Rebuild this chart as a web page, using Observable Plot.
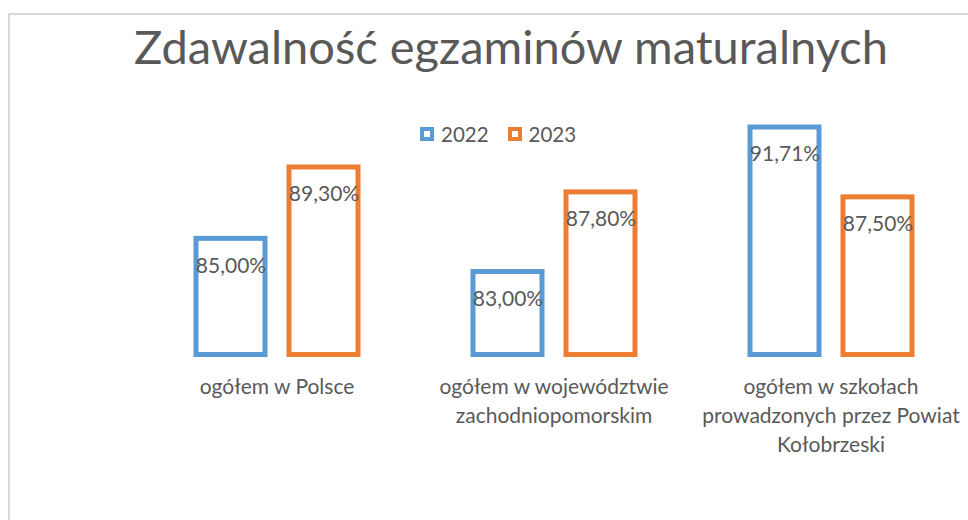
<!DOCTYPE html>
<html>
<head>
<meta charset="utf-8">
<script src="https://cdn.jsdelivr.net/npm/d3@7"></script>
<script src="https://cdn.jsdelivr.net/npm/@observablehq/plot@0.6"></script>
<style>
  body { margin: 0; background: #fff; }
  #wrap { position: relative; width: 968px; height: 520px; overflow: hidden; background: #fff;
          font-family: Lato, "Open Sans", sans-serif; color: #595959; }
  #frame { position: absolute; left: 8px; top: 13px; width: 1000px; height: 600px;
           border: 2px solid #d9d9d9; box-sizing: border-box; }
  #title { position: absolute; left: 0; width: 1022px; top: 23px; text-align: center;
           font-size: 47px; line-height: 47px; font-weight: 400; white-space: nowrap; }
  #legend { position: absolute; left: 420px; top: 122px; display: flex; align-items: center;
            font-size: 20.5px; line-height: 24px; }
  #legend .item { display: flex; align-items: center; margin-right: 19px; }
  #legend .sw { width: 14px; height: 14px; border: 4px solid; box-sizing: border-box; background: #fff; margin-right: 7px; }
  #chart { position: absolute; left: 0; top: 0; }
</style>
</head>
<body>
<div id="wrap">
  <div id="frame"></div>
  <div id="chart"></div>
  <div id="title">Zdawalność egzaminów maturalnych</div>
  <div id="legend"></div>
</div>
<script>
const categories = [
  "ogółem w Polsce",
  "ogółem w województwie zachodniopomorskim",
  "ogółem w szkołach prowadzonych przez Powiat Kołobrzeski"
];
const categoryLabels = [
  "ogółem w Polsce",
  "ogółem w województwie\nzachodniopomorskim",
  "ogółem w szkołach\nprowadzonych przez Powiat\nKołobrzeski"
];
const years = ["2022", "2023"];
const values2022 = [85.00, 83.00, 91.71];
const values2023 = [89.30, 87.80, 87.50];
const colors = ["#5B9BD5", "#ED7D31"];
const yDomain = [78, 94];

const rows = [];
categories.forEach((c, i) => {
  rows.push({category: c, year: years[0], value: values2022[i]});
  rows.push({category: c, year: years[1], value: values2023[i]});
});
const fmt = v => v.toFixed(2).replace(".", ",") + "%";
const labelOf = new Map(categories.map((c, i) => [c, categoryLabels[i]]));

const chart = Plot.plot({
  width: 968,
  height: 520,
  marginTop: 89,
  marginBottom: 165.5,
  style: {background: "transparent", fontFamily: "Lato, 'Open Sans', sans-serif"},
  fx: {domain: categories, range: [137.5, 970], paddingInner: 0, paddingOuter: 0, axis: null, label: null},
  x: {domain: years, paddingInner: 0.26, paddingOuter: 0.606, axis: null},
  y: {domain: yDomain, axis: null},
  color: {domain: years, range: colors},
  marks: [
    Plot.barY(rows, {
      fx: "category", x: "year", y1: yDomain[0], y2: "value",
      stroke: "year", fill: "white", strokeWidth: 5
    }),
    Plot.text(rows, {
      fx: "category", x: "year", y: "value", text: d => fmt(d.value),
      dy: 27, lineAnchor: "middle", fill: "#595959", fontSize: 21
    }),
    Plot.text(categories, {
      fx: d => d, text: d => labelOf.get(d), frameAnchor: "bottom",
      lineAnchor: "top", dy: 18, lineHeight: 1.38, fill: "#595959", fontSize: 21
    })
  ]
});
document.getElementById("chart").appendChild(chart);

const legend = document.getElementById("legend");
years.forEach((y, i) => {
  const item = document.createElement("div");
  item.className = "item";
  const sw = document.createElement("span");
  sw.className = "sw";
  sw.style.borderColor = colors[i];
  const t = document.createElement("span");
  t.textContent = y;
  item.appendChild(sw);
  item.appendChild(t);
  legend.appendChild(item);
});
</script>
</body>
</html>
